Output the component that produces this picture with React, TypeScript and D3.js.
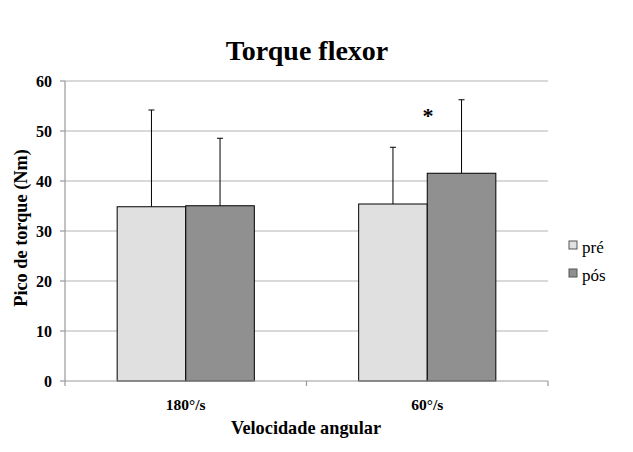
import * as d3 from "d3";
import React from "react";

const categories = ["180°/s", "60°/s"];
const series = ["pré", "pós"];
const preValues = [34.85, 35.4];
const posValues = [35.05, 41.55];
const preErrors = [19.35, 11.35];
const posErrors = [13.5, 14.7];
const yTicks = [0, 10, 20, 30, 40, 50, 60];
const colors = ["#e0e0e0", "#909090"];

const W = 633;
const H = 452;
const margin = { top: 81, right: 85, bottom: 71, left: 65 };
const font = "'Liberation Serif', 'Times New Roman', serif";

const App: React.FC = () => {
  const x = d3
    .scaleBand<string>()
    .domain(categories)
    .range([margin.left, W - margin.right]);

  const inner = d3
    .scaleBand<string>()
    .domain(series)
    .range([x.bandwidth() * 0.216, x.bandwidth() * 0.784]);

  const y = d3
    .scaleLinear()
    .domain([0, 60])
    .range([H - margin.bottom, margin.top]);

  const bars = categories.flatMap((c, i) => [
    { c, s: series[0], v: preValues[i], e: preErrors[i], fill: colors[0] },
    { c, s: series[1], v: posValues[i], e: posErrors[i], fill: colors[1] },
  ]);

  const x0 = margin.left;
  const x1 = W - margin.right;
  const y0 = y(0);

  return (
    <svg
      width={W}
      height={H}
      style={{ position: "absolute", left: 0, top: 0, background: "#fff" }}
      fontFamily={font}
    >
      <text x={307} y={60} textAnchor="middle" fontSize={28} fontWeight="bold">
        Torque flexor
      </text>

      {/* gridlines */}
      {yTicks
        .filter((t) => t > 0)
        .map((t) => (
          <line key={t} x1={x0} x2={x1} y1={y(t)} y2={y(t)} stroke="#b3b3b3" strokeWidth={1.2} />
        ))}

      {/* y axis */}
      <line x1={x0} x2={x0} y1={margin.top} y2={y0} stroke="#999" strokeWidth={1.2} />
      {yTicks.map((t) => (
        <g key={t}>
          <line x1={x0 - 5} x2={x0} y1={y(t)} y2={y(t)} stroke="#999" strokeWidth={1.2} />
          <text
            x={52}
            y={y(t)}
            dy="0.35em"
            textAnchor="end"
            fontSize={16}
            fontWeight="bold"
          >
            {t}
          </text>
        </g>
      ))}

      {/* bars */}
      {bars.map((b) => {
        const bx = x(b.c)! + inner(b.s)!;
        const cx = bx + inner.bandwidth() / 2;
        return (
          <g key={b.c + b.s}>
            <line x1={cx} x2={cx} y1={y(b.v)} y2={y(b.v + b.e)} stroke="#000" strokeWidth={1} />
            <line x1={cx - 3} x2={cx + 3} y1={y(b.v + b.e)} y2={y(b.v + b.e)} stroke="#000" strokeWidth={1} />
            <rect
              x={bx}
              y={y(b.v)}
              width={inner.bandwidth()}
              height={y0 - y(b.v)}
              fill={b.fill}
              stroke="#000"
              strokeWidth={1}
            />
          </g>
        );
      })}

      {/* x axis */}
      <line x1={x0} x2={x1} y1={y0} y2={y0} stroke="#999" strokeWidth={1.2} />
      {[...categories.map((c) => x(c)!), x1].map((px, i) => (
        <line key={i} x1={px} x2={px} y1={y0} y2={y0 + 5} stroke="#999" strokeWidth={1.2} />
      ))}
      {categories.map((c) => (
        <text
          key={c}
          x={x(c)! + x.bandwidth() / 2}
          y={410}
          textAnchor="middle"
          fontSize={15.5}
          fontWeight="bold"
        >
          {c}
        </text>
      ))}

      <text x={428} y={123} textAnchor="middle" fontSize={22} fontWeight="bold">
        *
      </text>

      <text x={306} y={434} textAnchor="middle" fontSize={18.3} fontWeight="bold">
        Velocidade angular
      </text>
      <text
        transform={`translate(27,228) rotate(-90)`}
        textAnchor="middle"
        fontSize={18.3}
        fontWeight="bold"
      >
        Pico de torque (Nm)
      </text>

      {/* legend */}
      {series.map((s, i) => (
        <g key={s} transform={`translate(569,${241 + i * 28})`}>
          <rect x={0} y={0} width={8} height={8} fill={colors[i]} stroke="#555" strokeWidth={1} />
          <text x={13} y={11.5} fontSize={17}>
            {s}
          </text>
        </g>
      ))}
    </svg>
  );
};

export default App;
